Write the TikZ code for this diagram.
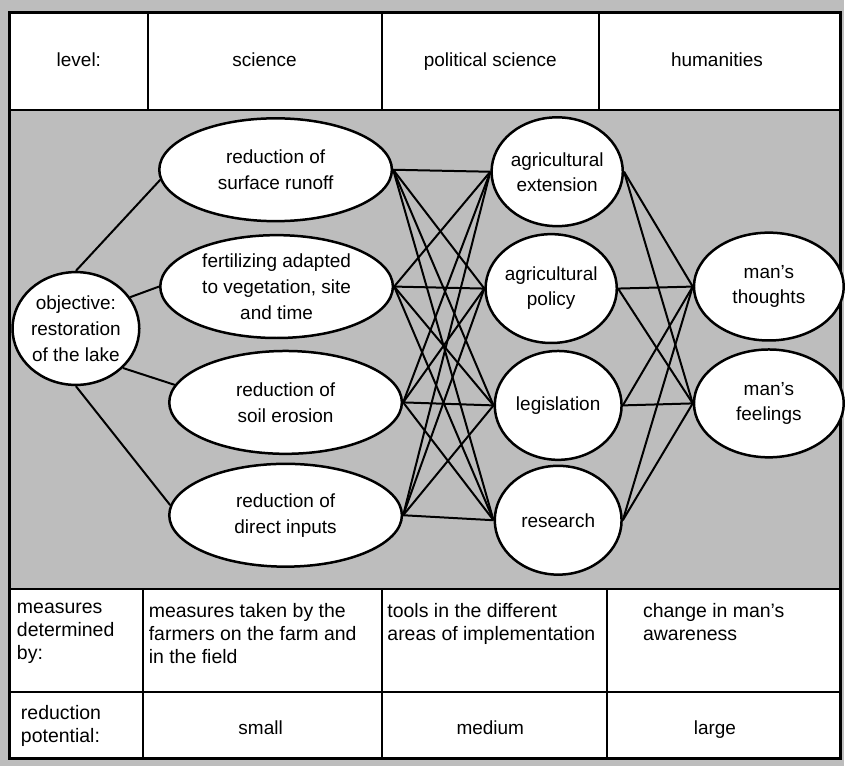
\documentclass[tikz,border=0pt]{standalone}
\usepackage{fontspec}
\setmainfont{Liberation Sans}
\usetikzlibrary{shapes.geometric}

\begin{document}
\begin{tikzpicture}[
	x=1pt, y=-1pt,
	line width=2pt,
	science/.style={
		ellipse,
		draw=black,
		line width=2.5pt,
		fill=white,
		align=center,
		inner sep=0pt,
		font=\fontsize{19}{26}\selectfont,
		minimum width=233pt,
		minimum height=103pt
	},
	tool/.style={
		ellipse,
		draw=black,
		line width=2.5pt,
		fill=white,
		align=center,
		inner sep=0pt,
		font=\fontsize{19}{25}\selectfont,
		minimum width=127pt,
		minimum height=109pt
	},
	mind/.style={
		ellipse,
		draw=black,
		line width=2.5pt,
		fill=white,
		align=center,
		inner sep=0pt,
		font=\fontsize{19}{25}\selectfont,
		minimum width=150pt,
		minimum height=108pt
	},
	head/.style={
		inner sep=0pt,
		text height=14pt,
		text depth=4pt,
		font=\fontsize{19}{23}\selectfont
	},
	cell/.style={
		anchor=north west,
		align=left,
		inner sep=0pt,
		font=\fontsize{19.5}{23}\selectfont
	},
]

% background and table
\fill[black!26] (0,0) rectangle (845,767);
\fill[white] (10,13) rectangle (842,110);
\fill[white] (10,590) rectangle (842,760);
\draw[line width=2pt] (10,110) -- (842,110);
\draw[line width=2pt] (10,590) -- (842,590);
\draw[line width=2pt] (10,693) -- (842,693);
\foreach \x in {148, 383, 600}
	\draw[line width=2pt] (\x,13) -- (\x,110);
\foreach \x in {143, 383, 608}
	\draw[line width=2pt] (\x,590) -- (\x,760);
\draw[line width=3pt] (10,13) rectangle (842,760);

% header row
\node[head] (lvl) at (79, 62) {level:};
\node[head] (hsci) at (265, 62) {science};
\node[head] (hpol) at (491, 62) {political science};
\node[head] (hhum) at (718, 62) {humanities};

% bottom rows
\node[cell] (by) at (16, 603) {measures\\determined\\by:};
\node[cell] (bysci) at (148, 603) {measures taken by the\\farmers on the farm and\\in the field};
\node[cell] (bypol) at (387, 603) {tools in the different\\areas of implementation};
\node[cell] (byhum) at (643, 603) {change in man's\\awareness};
\node[cell] (pot) at (20, 705) {reduction\\potential:};
\node[head] (potsci) at (261, 731) {small};
\node[head] (potpol) at (491, 731) {medium};
\node[head] (pothum) at (716, 731) {large};

% nodes
\node[science, minimum width=126pt, minimum height=113pt] (obj) at (76, 329)
	{objective:\\restoration\\of the lake};

\foreach \x/\y/\txt [count=\i from 0] in {
		276/170/{reduction of\\surface runoff},
		277/287/{fertilizing adapted\\to vegetation, site\\and time},
		286/403/{reduction of\\soil erosion},
		286/516/{reduction of\\direct inputs}}
	\node[science] (sci\i) at (\x, \y) {\txt};

\foreach \x/\y/\txt [count=\i from 0] in {
		558/172/{agricultural\\extension},
		552/289/{agricultural\\policy},
		559/406/{legislation},
		559/521/{research}}
	\node[tool] (tool\i) at (\x, \y) {\txt};

\node[mind] (mind0) at (770, 287) {man's\\thoughts};
\node[mind] (mind1) at (770, 404) {man's\\feelings};

% connections
\foreach \a/\b [count=\i from 0] in {north/185, 30/west, -40/171, south/175}
	\draw (obj.\a) -- (sci\i.\b);

\foreach \x in {0, ..., 3}
	\foreach \y in {0, ..., 3}
		\draw (sci\x.east) -- (tool\y.west);

\foreach \x in {0, ..., 3}
	\foreach \y in {0, 1}
		\draw (tool\x.east) -- (mind\y.west);

\end{tikzpicture}
\end{document}
